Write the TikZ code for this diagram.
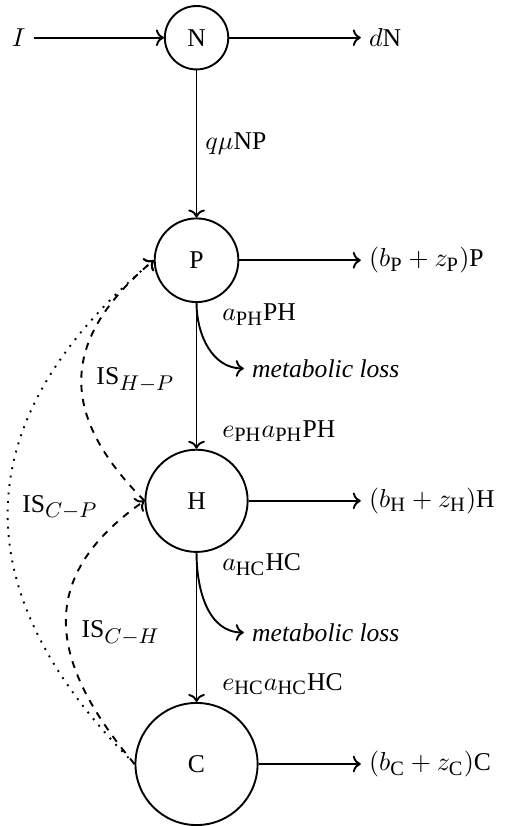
\documentclass[tikz,border=0pt]{standalone}
\usepackage{amsmath,amssymb}
\usepackage{fontspec}
\setmainfont{Liberation Serif}
\DeclareMathSizes{10.8}{10.8}{8.6}{6.5}
\usepackage{tikz}
\usetikzlibrary{positioning,arrows.meta,calc}

\begin{document}
\begin{tikzpicture}[
    font=\fontsize{10.8}{13}\selectfont,
    pool/.style={draw, circle, thick, inner sep=0pt},
    arrow/.style={->, thick},
    isdash/.style={->, thick, dashed},
    isdot/.style={->, thick, dash pattern=on 0.8pt off 2.8pt},
]
\node[pool, minimum size=0.94cm] (N) {N};
\node[pool, minimum size=1.24cm, below=2.18cm of N] (P) {P};
\node[pool, minimum size=1.515cm, below=2.16cm of P] (H) {H};
\node[pool, minimum size=1.81cm, below=2.21cm of H] (C) {C};
\useasboundingbox ($(N)+(-2.913,0.559)$) rectangle ($(N)+(4.590,-11.59)$);

\node[left=1.93cm of N] (inflow) {$I$};
\node[right=1.95cm of N] (dN) {$d$N};
\node[anchor=west] (outP) at (dN.west |- P) {$(b_{\mathrm{P}}+z_{\mathrm{P}})$P};
\node[anchor=west] (outH) at (dN.west |- H) {$(b_{\mathrm{H}}+z_{\mathrm{H}})$H};
\node[anchor=west] (outC) at (dN.west |- C) {$(b_{\mathrm{C}}+z_{\mathrm{C}})$C};
\node[anchor=west] (lossP) at ($(P.south)+(0.70,-0.97)$) {\textit{metabolic loss}};
\node[anchor=west] (lossH) at ($(H.south)+(0.70,-1.18)$) {\textit{metabolic loss}};
\node[anchor=west, inner sep=0pt] (isHP) at ($(H)+(-1.49,1.79)$) {IS$_{H-P}$};
\node[anchor=west, inner sep=0pt] (isCH) at ($(H)+(-1.71,-1.96)$) {IS$_{C-H}$};
\node[anchor=west, inner sep=0pt] (isCP) at ($(H)+(-2.59,-0.10)$) {IS$_{C-P}$};

\draw[arrow] (inflow) -- (N);
\draw[arrow] (N) -- (dN);
\draw[arrow] (N) -- node[right] (qNP) {$q\mu$NP} (P);
\draw[arrow] (P) -- (outP);
\draw[arrow] (H) -- (outH);
\draw[arrow] (C) -- (outC);
\draw[arrow] (P) -- node[pos=0.08, right=0.25cm] (aPH) {$a_{\mathrm{PH}}$PH}
    node[pos=0.88, right=0.25cm] (ePH) {$e_{\mathrm{PH}}a_{\mathrm{PH}}$PH} (H);
\draw[arrow] (H) -- node[pos=0.08, right=0.25cm] (aHC) {$a_{\mathrm{HC}}$HC}
    node[pos=0.88, right=0.25cm] (eHC) {$e_{\mathrm{HC}}a_{\mathrm{HC}}$HC} (C);
\draw[arrow] (P.south) to[out=-90, in=180] (lossP);
\draw[arrow] (H.south) to[out=-90, in=180] (lossH);

\draw[isdash] (H.west) to[out=135, in=-140, looseness=1.3] (P.west);
\draw[isdash] (C.west) to[out=130, in=-145, looseness=1.3] (H.west);
\draw[isdot] (C.west) to[out=135, in=-140, looseness=1.25] (P.west);
\end{tikzpicture}
\end{document}
